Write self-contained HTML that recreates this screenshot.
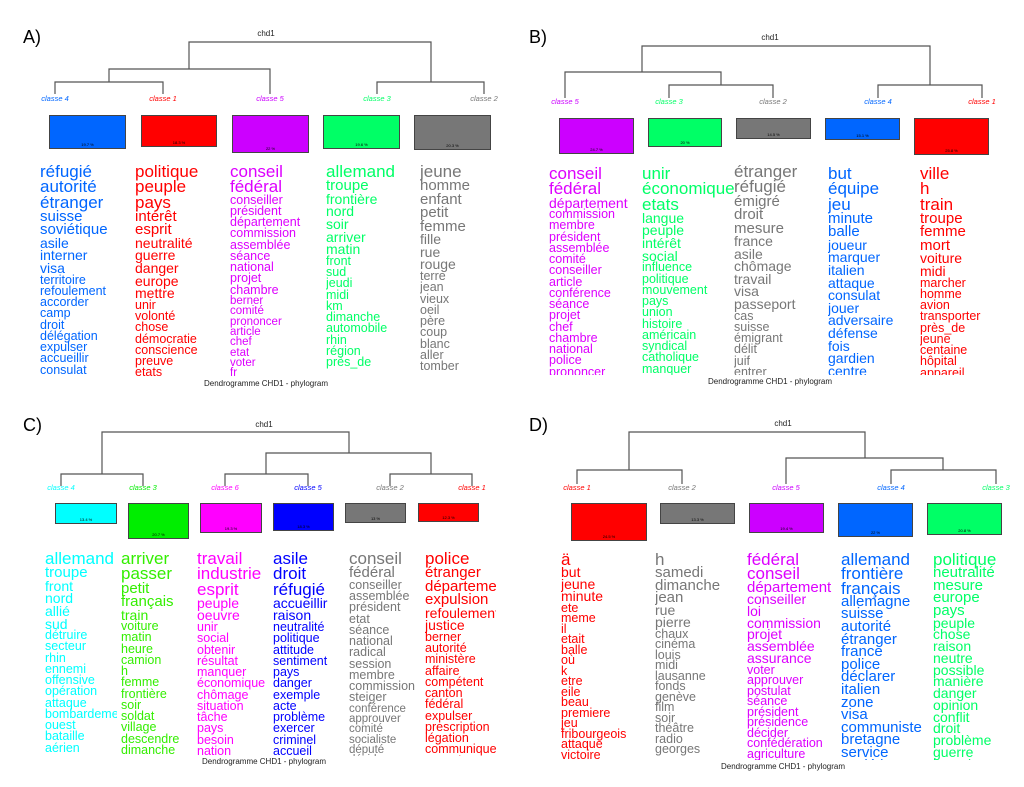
<!DOCTYPE html>
<html><head><meta charset="utf-8"><style>
body{margin:0;background:#fff;width:1024px;height:787px;position:relative;overflow:hidden;font-family:"Liberation Sans",Arial,sans-serif}
.p{position:absolute;font-size:18px;color:#000}
.t{position:absolute;font-size:8px;color:#222;transform:translateX(-50%)}
.l{position:absolute;font-size:7.5px;font-style:italic;transform:translateX(-50%);white-space:nowrap}
.bx{position:absolute;border:1px solid #444;box-sizing:border-box;font-size:4px;color:#000;text-align:center}
.bx span{position:absolute;bottom:1px;left:0;right:0}
.w{position:absolute;overflow:hidden;line-height:0.9;white-space:nowrap}
.w span{display:block}
.dd span{line-height:0.84}
.a{font-size:17px}.b{font-size:15px}.c{font-size:14px}.d{font-size:12.5px}.e{font-size:11.5px}
.f{position:absolute;font-size:8px;color:#222;transform:translateX(-50%);white-space:nowrap}
svg{position:absolute;left:0;top:0}
</style></head><body>
<svg width="1024" height="787" fill="none" stroke="#555" stroke-width="1.2">
<path d="M189,69V42H431V82 M109,82V69H270V94 M55,94V82H163V94 M377,94V82H484V94"/>
<path d="M642,72V46H930V85 M565,98V72H721V85 M669,98V85H773V98 M878,98V85H982V98"/>
<path d="M102,474V432H349V453 M61,486V474H143V486 M266,474V453H431V474 M225,486V474H308V486 M390,486V474H472V486"/>
<path d="M629,470V432H865V458 M577,484V470H682V484 M786,484V458H943V470 M891,484V470H996V484"/>
</svg>

<div class="p" style="left:23px;top:27px">A)</div>
<div class="p" style="left:529px;top:27px">B)</div>
<div class="p" style="left:23px;top:415px">C)</div>
<div class="p" style="left:529px;top:415px">D)</div>

<div class="t" style="left:266px;top:29px">chd1</div>
<div class="t" style="left:770px;top:33px">chd1</div>
<div class="t" style="left:264px;top:420px">chd1</div>
<div class="t" style="left:783px;top:419px">chd1</div>

<div class="l" style="left:55px;top:94px;color:#0066ff">classe 4</div>
<div class="l" style="left:163px;top:94px;color:#ff0000">classe 1</div>
<div class="l" style="left:270px;top:94px;color:#cc00ff">classe 5</div>
<div class="l" style="left:377px;top:94px;color:#00ff66">classe 3</div>
<div class="l" style="left:484px;top:94px;color:#777">classe 2</div>
<div class="bx" style="left:49px;top:115px;width:77px;height:34px;background:#0066ff"><span>19.7 %</span></div>
<div class="bx" style="left:141px;top:115px;width:76px;height:32px;background:#ff0000"><span>18.3 %</span></div>
<div class="bx" style="left:232px;top:115px;width:77px;height:38px;background:#cc00ff"><span>22 %</span></div>
<div class="bx" style="left:323px;top:115px;width:77px;height:34px;background:#00ff66"><span>19.6 %</span></div>
<div class="bx" style="left:414px;top:115px;width:77px;height:35px;background:#777"><span>20.3 %</span></div>

<div class="l" style="left:565px;top:97px;color:#cc00ff">classe 5</div>
<div class="l" style="left:669px;top:97px;color:#00ff66">classe 3</div>
<div class="l" style="left:773px;top:97px;color:#777">classe 2</div>
<div class="l" style="left:878px;top:97px;color:#0066ff">classe 4</div>
<div class="l" style="left:982px;top:97px;color:#ff0000">classe 1</div>
<div class="bx" style="left:559px;top:118px;width:75px;height:36px;background:#cc00ff"><span>24.7 %</span></div>
<div class="bx" style="left:648px;top:118px;width:74px;height:29px;background:#00ff66"><span>20 %</span></div>
<div class="bx" style="left:736px;top:118px;width:75px;height:21px;background:#777"><span>14.5 %</span></div>
<div class="bx" style="left:825px;top:118px;width:75px;height:22px;background:#0066ff"><span>15.1 %</span></div>
<div class="bx" style="left:914px;top:118px;width:75px;height:37px;background:#ff0000"><span>25.8 %</span></div>

<div class="l" style="left:61px;top:483px;color:#00ffff">classe 4</div>
<div class="l" style="left:143px;top:483px;color:#00ee00">classe 3</div>
<div class="l" style="left:225px;top:483px;color:#ff00ff">classe 6</div>
<div class="l" style="left:308px;top:483px;color:#0000ff">classe 5</div>
<div class="l" style="left:390px;top:483px;color:#777">classe 2</div>
<div class="l" style="left:472px;top:483px;color:#ff0000">classe 1</div>
<div class="bx" style="left:55px;top:503px;width:62px;height:21px;background:#00ffff"><span>13.4 %</span></div>
<div class="bx" style="left:128px;top:503px;width:61px;height:36px;background:#00ee00"><span>20.7 %</span></div>
<div class="bx" style="left:200px;top:503px;width:62px;height:30px;background:#ff00ff"><span>19.3 %</span></div>
<div class="bx" style="left:273px;top:503px;width:61px;height:28px;background:#0000ff"><span>18.3 %</span></div>
<div class="bx" style="left:345px;top:503px;width:61px;height:20px;background:#777"><span>13 %</span></div>
<div class="bx" style="left:418px;top:503px;width:61px;height:19px;background:#ff0000"><span>12.3 %</span></div>

<div class="l" style="left:577px;top:483px;color:#ff0000">classe 1</div>
<div class="l" style="left:682px;top:483px;color:#777">classe 2</div>
<div class="l" style="left:786px;top:483px;color:#cc00ff">classe 5</div>
<div class="l" style="left:891px;top:483px;color:#0066ff">classe 4</div>
<div class="l" style="left:996px;top:483px;color:#00ff66">classe 3</div>
<div class="bx" style="left:571px;top:503px;width:76px;height:38px;background:#ff0000"><span>24.5 %</span></div>
<div class="bx" style="left:660px;top:503px;width:75px;height:21px;background:#777"><span>13.3 %</span></div>
<div class="bx" style="left:749px;top:503px;width:75px;height:30px;background:#cc00ff"><span>19.4 %</span></div>
<div class="bx" style="left:838px;top:503px;width:75px;height:34px;background:#0066ff"><span>22 %</span></div>
<div class="bx" style="left:927px;top:503px;width:75px;height:32px;background:#00ff66"><span>20.8 %</span></div>

<div class="w" style="left:40px;top:164px;width:92px;height:213px;color:#0066ff"><span class="a">réfugié</span><span class="a">autorité</span><span class="a">étranger</span><span class="b">suisse</span><span class="b">soviétique</span><span class="c">asile</span><span class="c">interner</span><span class="c">visa</span><span class="d">territoire</span><span class="d">refoulement</span><span class="d">accorder</span><span class="d">camp</span><span class="d">droit</span><span class="d">délégation</span><span class="d">expulser</span><span class="d">accueillir</span><span class="d">consulat</span></div>
<div class="w" style="left:135px;top:164px;width:92px;height:213px;color:#ff0000"><span class="a">politique</span><span class="a">peuple</span><span class="a">pays</span><span class="b">intérêt</span><span class="b">esprit</span><span class="c">neutralité</span><span class="c">guerre</span><span class="c">danger</span><span class="c">europe</span><span class="c">mettre</span><span class="d">unir</span><span class="d">volonté</span><span class="d">chose</span><span class="d">démocratie</span><span class="d">conscience</span><span class="d">preuve</span><span class="d">etats</span></div>
<div class="w" style="left:230px;top:164px;width:92px;height:213px;color:#dd00ff"><span class="a">conseil</span><span class="a">fédéral</span><span class="d">conseiller</span><span class="d">président</span><span class="d">département</span><span class="d">commission</span><span class="d">assemblée</span><span class="d">séance</span><span class="d">national</span><span class="d">projet</span><span class="d">chambre</span><span class="e">berner</span><span class="e">comité</span><span class="e">prononcer</span><span class="e">article</span><span class="e">chef</span><span class="e">etat</span><span class="e">voter</span><span class="e">fr</span></div>
<div class="w" style="left:326px;top:164px;width:92px;height:213px;color:#00ff66"><span class="a">allemand</span><span class="b">troupe</span><span class="c">frontière</span><span class="c">nord</span><span class="c">soir</span><span class="c">arriver</span><span class="c">matin</span><span class="d">front</span><span class="d">sud</span><span class="d">jeudi</span><span class="d">midi</span><span class="d">km</span><span class="d">dimanche</span><span class="d">automobile</span><span class="d">rhin</span><span class="d">région</span><span class="d">près_de</span></div>
<div class="w" style="left:420px;top:164px;width:92px;height:213px;color:#777"><span class="a">jeune</span><span class="b">homme</span><span class="b">enfant</span><span class="b">petit</span><span class="b">femme</span><span class="c">fille</span><span class="c">rue</span><span class="c">rouge</span><span class="d">terre</span><span class="d">jean</span><span class="d">vieux</span><span class="d">oeil</span><span class="d">père</span><span class="d">coup</span><span class="d">blanc</span><span class="d">aller</span><span class="d">tomber</span></div>
<div class="f" style="left:266px;top:379px">Dendrogramme CHD1 - phylogram</div>

<div class="w" style="left:549px;top:166px;width:92px;height:209px;color:#dd00ff"><span class="a">conseil</span><span class="a">fédéral</span><span class="c">département</span><span class="d">commission</span><span class="d">membre</span><span class="d">président</span><span class="d">assemblée</span><span class="d">comité</span><span class="d">conseiller</span><span class="d">article</span><span class="d">conférence</span><span class="d">séance</span><span class="d">projet</span><span class="d">chef</span><span class="d">chambre</span><span class="d">national</span><span class="d">police</span><span class="d">prononcer</span></div>
<div class="w" style="left:642px;top:166px;width:92px;height:209px;color:#00ff66"><span class="a">unir</span><span class="a">économique</span><span class="a">etats</span><span class="c">langue</span><span class="c">peuple</span><span class="c">intérêt</span><span class="c">social</span><span class="d">influence</span><span class="d">politique</span><span class="d">mouvement</span><span class="d">pays</span><span class="d">union</span><span class="d">histoire</span><span class="d">américain</span><span class="d">syndical</span><span class="d">catholique</span><span class="d">manquer</span></div>
<div class="w" style="left:734px;top:164px;width:92px;height:211px;color:#777"><span class="a">étranger</span><span class="a">réfugié</span><span class="b">émigré</span><span class="b">droit</span><span class="b">mesure</span><span class="c">france</span><span class="c">asile</span><span class="c">chômage</span><span class="c">travail</span><span class="c">visa</span><span class="c">passeport</span><span class="d">cas</span><span class="d">suisse</span><span class="d">émigrant</span><span class="d">délit</span><span class="d">juif</span><span class="d">entrer</span></div>
<div class="w" style="left:828px;top:166px;width:92px;height:209px;color:#0066ff"><span class="a">but</span><span class="a">équipe</span><span class="a">jeu</span><span class="b">minute</span><span class="b">balle</span><span class="c">joueur</span><span class="c">marquer</span><span class="c">italien</span><span class="c">attaque</span><span class="c">consulat</span><span class="c">jouer</span><span class="c">adversaire</span><span class="c">défense</span><span class="c">fois</span><span class="c">gardien</span><span class="c">centre</span><span class="c">ciel</span></div>
<div class="w" style="left:920px;top:166px;width:100px;height:209px;color:#ff0000"><span class="a">ville</span><span class="a">h</span><span class="a">train</span><span class="b">troupe</span><span class="b">femme</span><span class="b">mort</span><span class="c">voiture</span><span class="c">midi</span><span class="d">marcher</span><span class="d">homme</span><span class="d">avion</span><span class="d">transporter</span><span class="d">près_de</span><span class="d">jeune</span><span class="d">centaine</span><span class="d">hôpital</span><span class="d">appareil</span></div>
<div class="f" style="left:770px;top:377px">Dendrogramme CHD1 - phylogram</div>

<div class="w" style="left:45px;top:551px;width:72px;height:205px;color:#00ffff"><span class="a">allemand</span><span class="b">troupe</span><span class="c">front</span><span class="c">nord</span><span class="c">allié</span><span class="c">sud</span><span class="d">détruire</span><span class="d">secteur</span><span class="d">rhin</span><span class="d">ennemi</span><span class="d">offensive</span><span class="d">opération</span><span class="d">attaque</span><span class="d">bombardement</span><span class="d">ouest</span><span class="d">bataille</span><span class="d">aérien</span></div>
<div class="w" style="left:121px;top:551px;width:76px;height:205px;color:#33ee00"><span class="a">arriver</span><span class="a">passer</span><span class="b">petit</span><span class="b">français</span><span class="c">train</span><span class="d">voiture</span><span class="d">matin</span><span class="d">heure</span><span class="d">camion</span><span class="d">h</span><span class="d">femme</span><span class="d">frontière</span><span class="d">soir</span><span class="d">soldat</span><span class="d">village</span><span class="d">descendre</span><span class="d">dimanche</span></div>
<div class="w" style="left:197px;top:551px;width:76px;height:205px;color:#ff00ff"><span class="a">travail</span><span class="a">industrie</span><span class="a">esprit</span><span class="c">peuple</span><span class="c">oeuvre</span><span class="d">unir</span><span class="d">social</span><span class="d">obtenir</span><span class="d">résultat</span><span class="d">manquer</span><span class="d">économique</span><span class="d">chômage</span><span class="d">situation</span><span class="d">tâche</span><span class="d">pays</span><span class="d">besoin</span><span class="d">nation</span></div>
<div class="w" style="left:273px;top:551px;width:76px;height:205px;color:#0000ff"><span class="a">asile</span><span class="a">droit</span><span class="a">réfugié</span><span class="c">accueillir</span><span class="c">raison</span><span class="d">neutralité</span><span class="d">politique</span><span class="d">attitude</span><span class="d">sentiment</span><span class="d">pays</span><span class="d">danger</span><span class="d">exemple</span><span class="d">acte</span><span class="d">problème</span><span class="d">exercer</span><span class="d">criminel</span><span class="d">accueil</span></div>
<div class="w" style="left:349px;top:551px;width:76px;height:205px;color:#777"><span class="a">conseil</span><span class="b">fédéral</span><span class="d">conseiller</span><span class="d">assemblée</span><span class="d">président</span><span class="d">etat</span><span class="d">séance</span><span class="d">national</span><span class="d">radical</span><span class="d">session</span><span class="d">membre</span><span class="d">commission</span><span class="d">steiger</span><span class="e">conférence</span><span class="e">approuver</span><span class="e">comité</span><span class="e">socialiste</span><span class="e">député</span><span class="e">décider</span></div>
<div class="w" style="left:425px;top:551px;width:71px;height:205px;color:#ff0000"><span class="a">police</span><span class="b">étranger</span><span class="b">département</span><span class="b">expulsion</span><span class="c">refoulement</span><span class="c">justice</span><span class="d">berner</span><span class="d">autorité</span><span class="d">ministère</span><span class="d">affaire</span><span class="d">compétent</span><span class="d">canton</span><span class="d">fédéral</span><span class="d">expulser</span><span class="d">prescription</span><span class="d">légation</span><span class="d">communiquer</span><span class="d">consulat</span></div>
<div class="f" style="left:264px;top:757px">Dendrogramme CHD1 - phylogram</div>

<div class="w dd" style="left:561px;top:553px;width:92px;height:207px;color:#ff0000"><span class="a">ä</span><span class="c">but</span><span class="c">jeune</span><span class="c">minute</span><span class="d">ete</span><span class="d">meme</span><span class="d">il</span><span class="d">etait</span><span class="d">balle</span><span class="d">où</span><span class="d">k</span><span class="d">etre</span><span class="d">eile</span><span class="d">beau</span><span class="d">premiere</span><span class="d">jeu</span><span class="d">fribourgeois</span><span class="d">attaque</span><span class="d">victoire</span></div>
<div class="w dd" style="left:655px;top:553px;width:92px;height:207px;color:#777"><span class="a">h</span><span class="b">samedi</span><span class="b">dimanche</span><span class="b">jean</span><span class="c">rue</span><span class="c">pierre</span><span class="d">chaux</span><span class="d">cinéma</span><span class="d">louis</span><span class="d">midi</span><span class="d">lausanne</span><span class="d">fonds</span><span class="d">genève</span><span class="d">film</span><span class="d">soir</span><span class="d">théâtre</span><span class="d">radio</span><span class="d">georges</span></div>
<div class="w dd" style="left:747px;top:553px;width:92px;height:207px;color:#dd00ff"><span class="a">fédéral</span><span class="a">conseil</span><span class="b">département</span><span class="c">conseiller</span><span class="c">loi</span><span class="c">commission</span><span class="c">projet</span><span class="c">assemblée</span><span class="c">assurance</span><span class="d">voter</span><span class="d">approuver</span><span class="d">postulat</span><span class="d">séance</span><span class="d">président</span><span class="d">présidence</span><span class="d">décider</span><span class="d">confédération</span><span class="d">agriculture</span><span class="d">adopter</span></div>
<div class="w dd" style="left:841px;top:553px;width:92px;height:207px;color:#0066ff"><span class="a">allemand</span><span class="a">frontière</span><span class="a">français</span><span class="b">allemagne</span><span class="b">suisse</span><span class="b">autorité</span><span class="b">étranger</span><span class="b">france</span><span class="b">police</span><span class="b">déclarer</span><span class="b">italien</span><span class="b">zone</span><span class="b">visa</span><span class="b">communiste</span><span class="b">bretagne</span><span class="b">service</span><span class="b">soviétique</span></div>
<div class="w dd" style="left:933px;top:553px;width:90px;height:207px;color:#00ff66"><span class="a">politique</span><span class="b">neutralité</span><span class="b">mesure</span><span class="b">europe</span><span class="b">pays</span><span class="c">peuple</span><span class="c">chose</span><span class="c">raison</span><span class="c">neutre</span><span class="c">possible</span><span class="c">manière</span><span class="c">danger</span><span class="c">opinion</span><span class="c">conflit</span><span class="c">droit</span><span class="c">problème</span><span class="c">guerre</span><span class="c">humain</span></div>
<div class="f" style="left:783px;top:762px">Dendrogramme CHD1 - phylogram</div>
</body></html>
